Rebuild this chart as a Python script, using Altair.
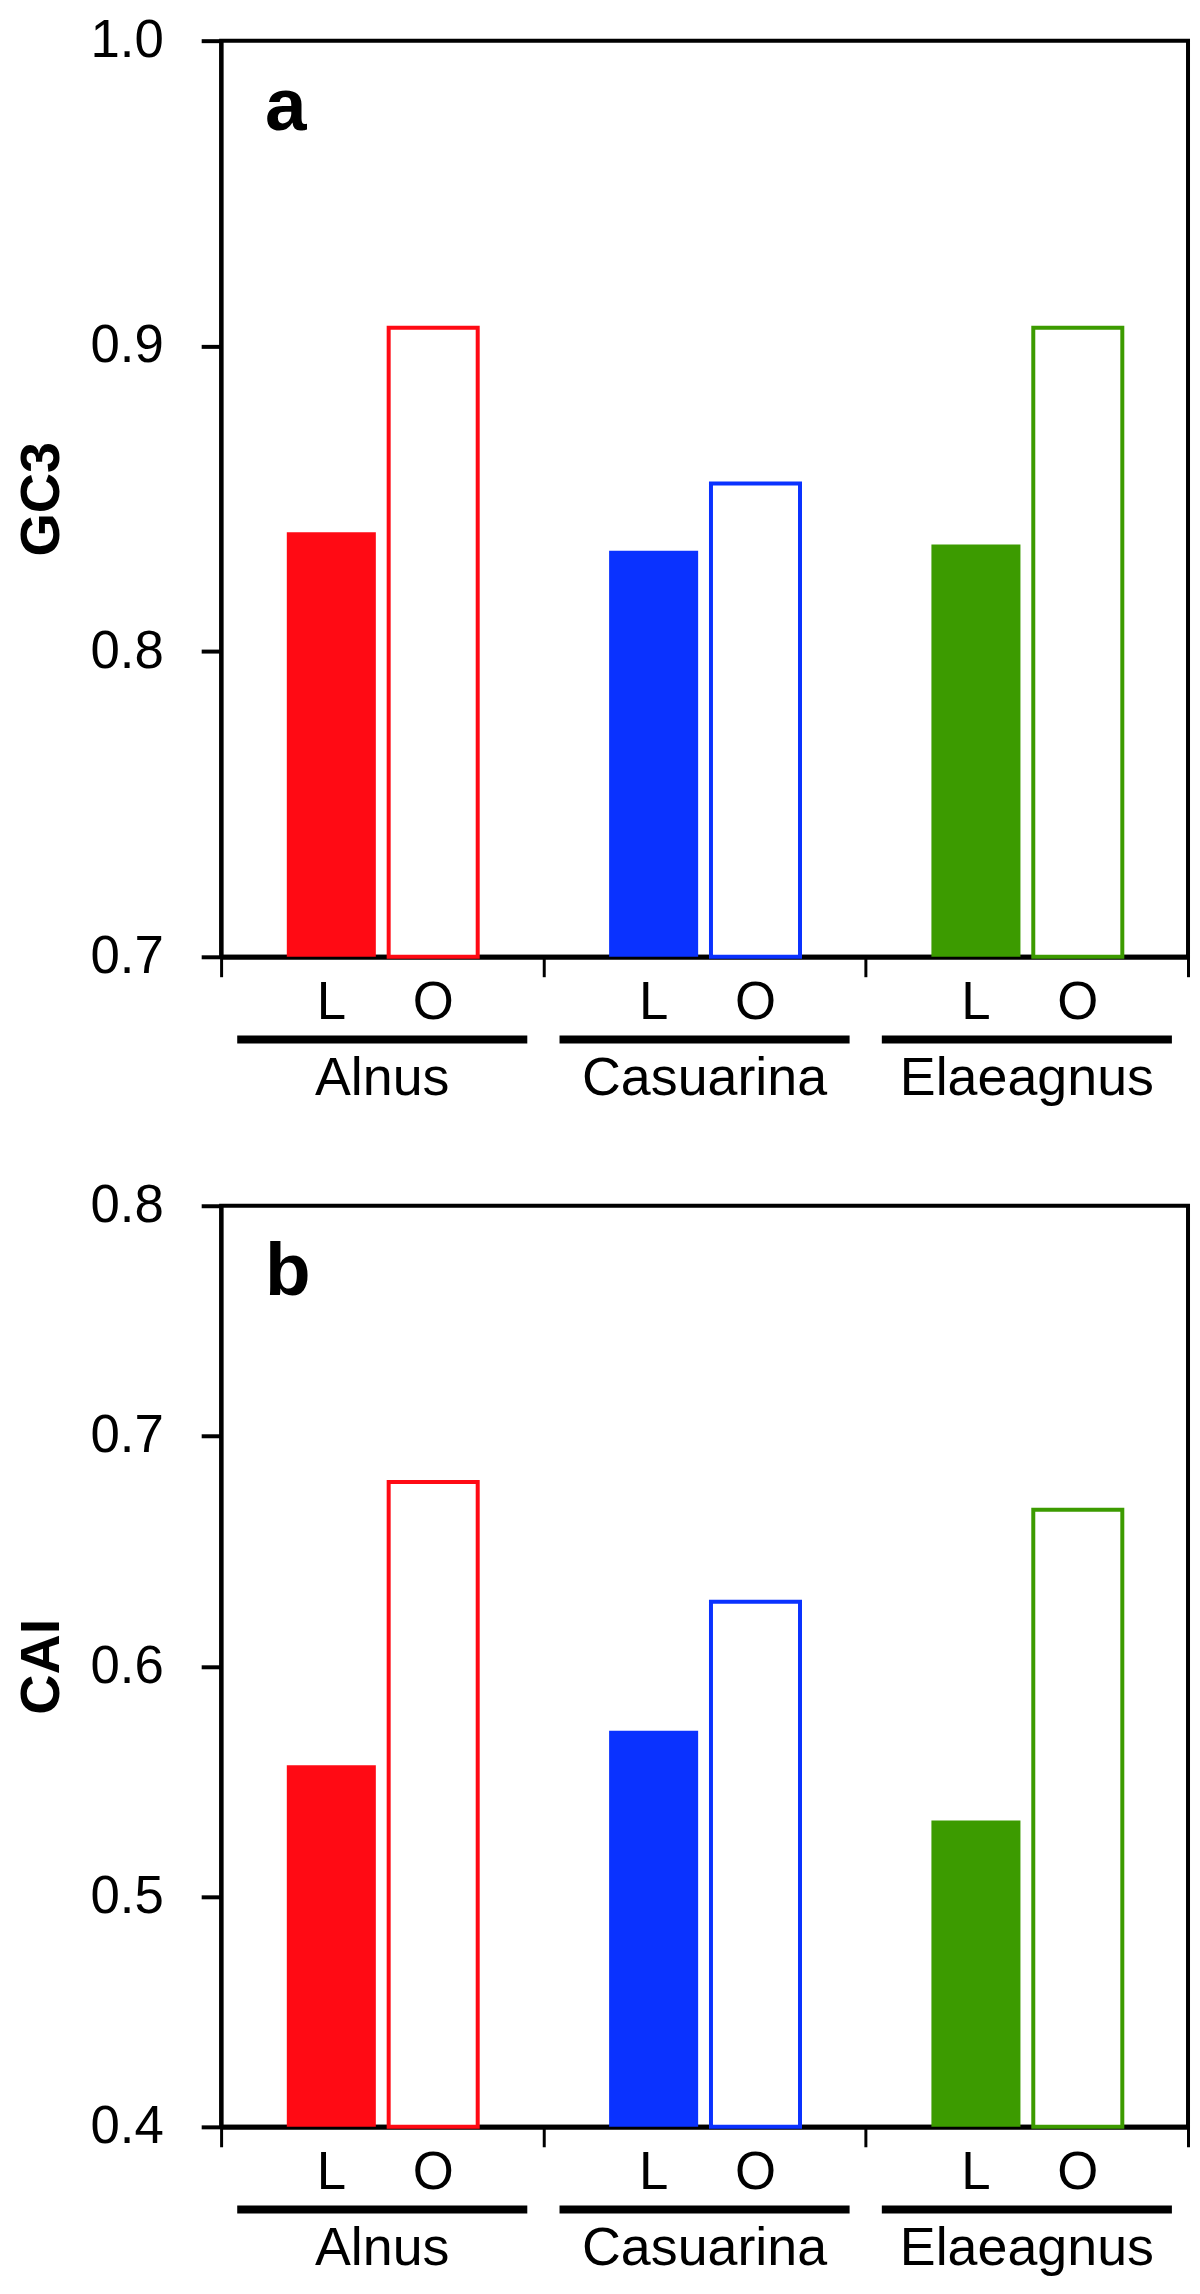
import altair as alt
import pandas as pd

species = ["Alnus", "Casuarina", "Elaeagnus"]
genomes = ["L", "O"]
colors = ["#FF0A14", "#0A32FF", "#3C9B00"]

gc3_L = [0.839, 0.833, 0.835]
gc3_O = [0.906, 0.855, 0.906]
cai_L = [0.557, 0.572, 0.533]
cai_O = [0.680, 0.628, 0.668]

gc3_ticks = [0.7, 0.8, 0.9, 1.0]
cai_ticks = [0.4, 0.5, 0.6, 0.7, 0.8]

FONT = "Liberation Sans"
W = 971


def make_df(Lvals, Ovals, base):
    rows = []
    for s, c, l, o in zip(species, colors, Lvals, Ovals):
        rows.append(dict(species=s, g="L", value=l, base=base, fill=c, stroke=c, sw=0))
        rows.append(dict(species=s, g="O", value=o, base=base, fill="white", stroke=c, sw=4))
    return pd.DataFrame(rows)


sp_df = pd.DataFrame({"species": species})


def panel(df, ticks, title, letter, H):
    lo, hi = ticks[0], ticks[-1]
    xenc = alt.X(
        "species:N", sort=species,
        scale=alt.Scale(paddingInner=0, paddingOuter=0),
        axis=alt.Axis(title=None, labels=False, tickBand="extent", tickSize=20,
                      tickWidth=3, tickColor="black", domainColor="black",
                      domainWidth=5),
    )
    xoff = alt.XOffset("g:N", sort=genomes,
                       scale=alt.Scale(paddingInner=0.126, paddingOuter=0.645))
    yenc = alt.Y(
        "value:Q",
        scale=alt.Scale(domain=[lo, hi], nice=False, zero=False),
        axis=alt.Axis(values=ticks, format=".1f", title=title,
                      labelFont=FONT, labelFontSize=53, labelColor="black",
                      labelPadding=38, tickSize=20, tickWidth=4, tickColor="black",
                      domainColor="black", domainWidth=4, grid=False,
                      titleFont=FONT, titleFontSize=56, titleFontWeight="bold",
                      titleColor="black", titlePadding=20),
    )
    bars = alt.Chart(df).mark_bar().encode(
        x=xenc, xOffset=xoff, y=yenc, y2="base:Q",
        fill=alt.Fill("fill:N", scale=None),
        stroke=alt.Stroke("stroke:N", scale=None),
        strokeWidth=alt.StrokeWidth("sw:Q", scale=None),
    )
    lo_text = alt.Chart(df).mark_text(font=FONT, fontSize=53, baseline="alphabetic",
                                      color="black").encode(
        x=alt.X("species:N", sort=species),
        xOffset=alt.XOffset("g:N", sort=genomes),
        text="g:N",
        y=alt.value(H + 62),
    )
    under = alt.Chart(sp_df).mark_bar(color="black",
                                      width=alt.RelativeBandSize(0.9)).encode(
        x=alt.X("species:N", sort=species),
        y=alt.value(H + 79), y2=alt.value(H + 87),
    )
    names = alt.Chart(sp_df).mark_text(font=FONT, fontSize=54, baseline="alphabetic",
                                       color="black").encode(
        x=alt.X("species:N", sort=species),
        text="species:N",
        y=alt.value(H + 139),
    )
    let = alt.Chart(pd.DataFrame({"t": [letter]})).mark_text(
        font=FONT, fontSize=75, fontWeight="bold", align="left",
        baseline="alphabetic", color="black").encode(
        x=alt.value(44), y=alt.value(90), text="t:N")
    return alt.layer(bars, lo_text, under, names, let).properties(width=W, height=H)


pa = panel(make_df(gc3_L, gc3_O, gc3_ticks[0]), gc3_ticks, "GC3", "a", 920)
pb = panel(make_df(cai_L, cai_O, cai_ticks[0]), cai_ticks, "CAI", "b", 925)

chart = alt.vconcat(pa, pb, spacing=250, bounds="flush").properties(
    padding={"left": 3, "top": 0, "right": 0, "bottom": 0}
).configure_view(stroke="black", strokeWidth=4)

chart.save("out.html", embed_options={"renderer": "svg", "actions": False})
